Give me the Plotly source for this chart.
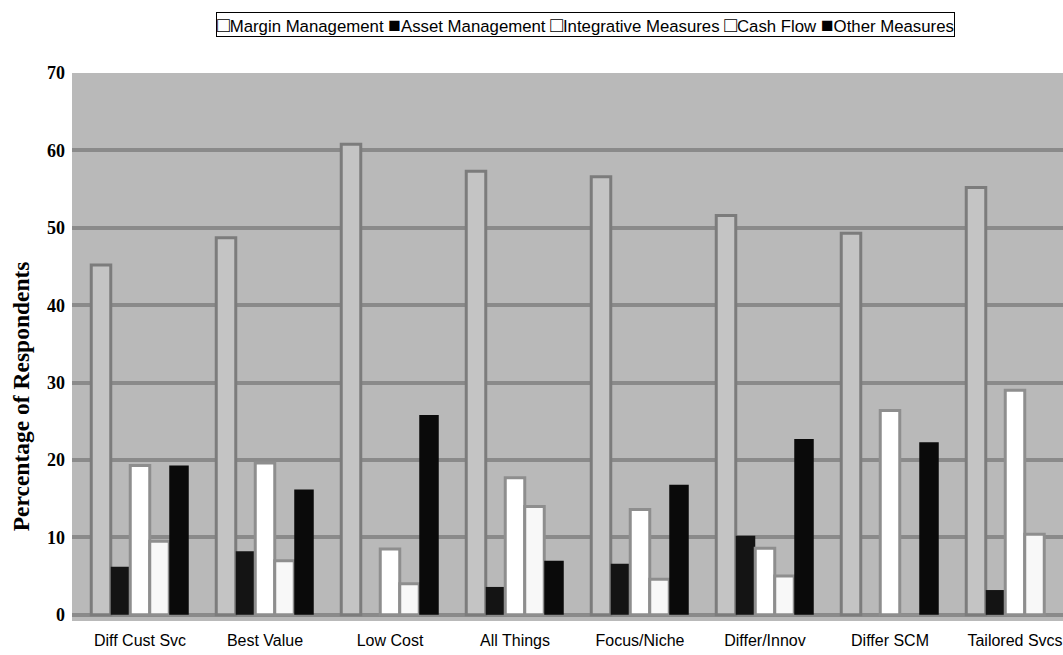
import plotly.graph_objects as go

categories = ["Diff Cust Svc", "Best Value", "Low Cost", "All Things",
              "Focus/Niche", "Differ/Innov", "Differ SCM", "Tailored Svcs"]
margin_mgmt = [45.2, 48.7, 60.8, 57.3, 56.6, 51.6, 49.3, 55.2]
asset_mgmt = [6.2, 8.2, 0, 3.6, 6.6, 10.2, 0, 3.2]
integrative = [19.3, 19.6, 8.5, 17.7, 13.6, 8.6, 26.4, 29.0]
cash_flow = [9.5, 7.0, 4.0, 14.0, 4.6, 5.0, 0, 10.4]
other = [19.3, 16.2, 25.8, 7.0, 16.8, 22.7, 22.3, None]

series_names = ["Margin Management", "Asset Management", "Integrative Measures",
                "Cash Flow", "Other Measures"]
legend_marks = ["\u25a1", "\u25a0", "\u25a1", "\u25a1", "\u25a0"]
y_title = "Percentage of Respondents"

series = [
    (series_names[0], margin_mgmt, "#c4c4c4", "#7c7c7c", 3),
    (series_names[1], asset_mgmt, "#141414", "#141414", 0),
    (series_names[2], integrative, "#ffffff", "#8e8e8e", 3),
    (series_names[3], cash_flow, "#f8f8f8", "#8e8e8e", 3),
    (series_names[4], other, "#0a0a0a", "#0a0a0a", 0),
]

fig = go.Figure()
for name, vals, fill, line, lw in series:
    fig.add_trace(go.Bar(
        x=categories, y=vals, name=name, showlegend=False,
        marker=dict(color=fill, line=dict(color=line, width=lw)),
    ))

legend_text = " ".join(
    "<span style='font-size:21px'>" + m + "</span>" + n
    for m, n in zip(legend_marks, series_names)
)

fig.add_annotation(
    text=legend_text, showarrow=False,
    xref="paper", yref="paper", x=0.518, y=1.0876,
    xanchor="center", yanchor="middle",
    bordercolor="black", borderwidth=1, borderpad=0, bgcolor="white",
    font=dict(size=16.8, family="Liberation Sans, Arial, sans-serif", color="black"),
)

fig.add_annotation(
    text="<b>" + y_title + "</b>", showarrow=False, textangle=-90,
    xref="paper", yref="paper", x=-0.0515, y=0.41,
    xanchor="center", yanchor="middle",
    font=dict(size=23.5, family="Liberation Serif, Times New Roman, serif", color="black"),
)

fig.update_layout(
    width=1063, height=655,
    paper_bgcolor="white",
    plot_bgcolor="#b9b9b9",
    margin=dict(l=72, r=0, t=73, b=34),
    barmode="group",
    bargap=0.22,
    bargroupgap=0.0,
    showlegend=False,
    font=dict(family="Liberation Sans, Arial, sans-serif", color="black"),
    xaxis=dict(
        type="category", automargin=False,
        range=[-0.544, 7.384],
        showgrid=False, zeroline=False, showline=False,
        ticks="", ticklabelstandoff=8,
        tickfont=dict(size=16, family="Liberation Sans, Arial, sans-serif"),
    ),
    yaxis=dict(
        automargin=False,
        range=[-0.8, 70],
        tickvals=[0, 10, 20, 30, 40, 50, 60, 70],
        showgrid=True, gridcolor="#8a8a8a", gridwidth=4,
        zeroline=False, showline=False, ticks="", ticklabelstandoff=6,
        tickfont=dict(size=18, family="Liberation Serif, Times New Roman, serif",
                      weight="bold"),
    ),
)

fig.write_html("out.html",
               config={"displayModeBar": False},
               post_script="document.body.style.margin='0';document.body.style.overflow='hidden';")
